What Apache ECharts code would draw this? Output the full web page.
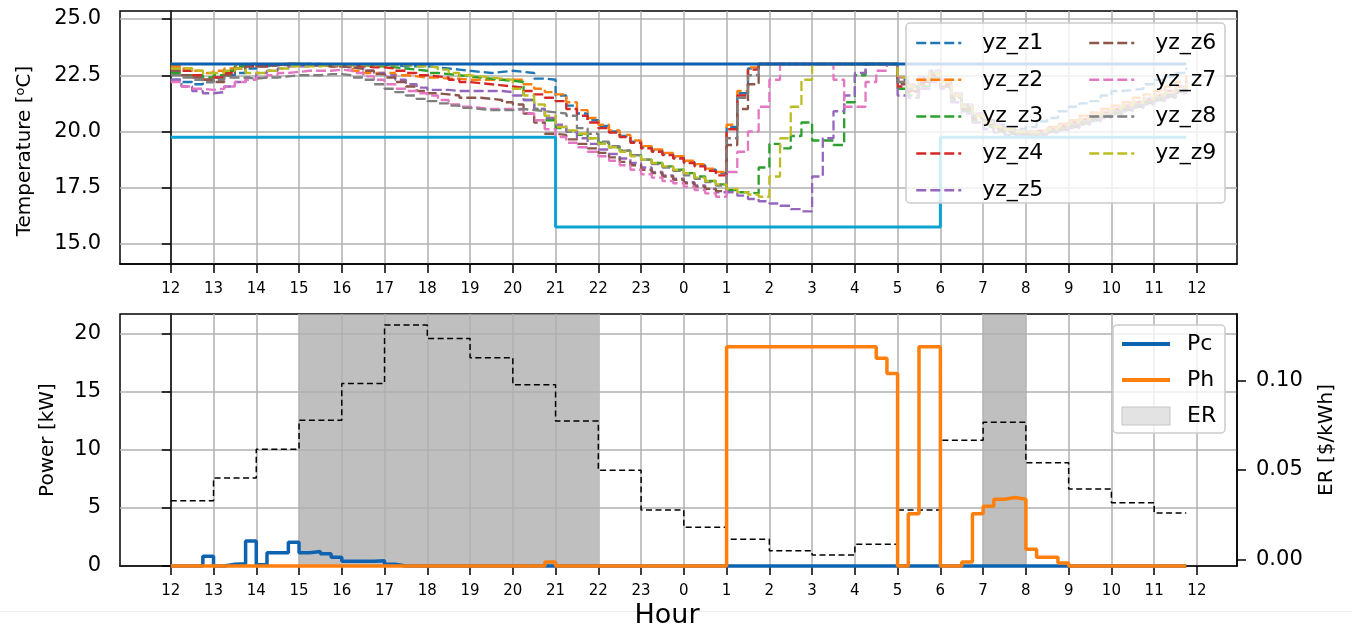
<!DOCTYPE html>
<html>
<head>
<meta charset="utf-8">
<script src="https://cdn.jsdelivr.net/npm/echarts@6/dist/echarts.min.js"></script>
<style>
  html, body { margin: 0; padding: 0; background: #fff; }
  #chart { width: 1352px; height: 630px; }
</style>
</head>
<body>
<div id="chart"></div>
<script>
// hour ticks, from noon to noon
const tickLabels = ['12', '13', '14', '15', '16', '17', '18', '19', '20', '21', '22', '23',
  '0', '1', '2', '3', '4', '5', '6', '7', '8', '9', '10', '11', '12']

const zoneNames = ['yz_z1', 'yz_z2', 'yz_z3', 'yz_z4', 'yz_z5', 'yz_z6', 'yz_z7', 'yz_z8', 'yz_z9']
const zoneColors = ['#1f77b4', '#ff7f0e', '#2ca02c', '#d62728', '#9467bd', '#8c564b', '#e377c2', '#7f7f7f', '#bcbd22']

// zone temperatures, one value per 15 min, one row per hour (12 ... 11)
const yz_z1 = [
  22.3, 22.2, 22.1, 22.2, 22.4, 22.5, 22.6, 22.8, 22.9, 22.95, 23.0, 23.0,
  23.0, 23.0, 22.95, 22.95, 22.95, 22.95, 22.95, 22.95, 22.95, 22.9, 22.9, 22.9,
  22.85, 22.8, 22.75, 22.7, 22.65, 22.6, 22.65, 22.7, 22.65, 22.6, 22.35, 22.3,
  21.6, 21.15, 20.8, 20.5, 20.25, 20.0, 19.8, 19.55, 19.3, 19.15, 19.0, 18.85,
  18.65, 18.5, 18.3, 18.15, 20.2, 21.7, 22.8, 23.0, 23.0, 23.0, 23.0, 23.0,
  23.0, 23.0, 23.0, 23.0, 23.0, 23.0, 23.0, 23.0, 22.3, 22.0, 22.4, 22.7,
  22.3, 21.7, 21.2, 20.8, 20.5, 20.3, 20.15, 20.1, 20.2, 20.45, 20.6, 20.9,
  21.1, 21.25, 21.35, 21.6, 21.8, 21.85, 21.9, 22.1, 22.3, 22.45, 22.6, 22.85
]
const yz_z2 = [
  22.9, 22.8, 22.7, 22.6, 22.7, 22.8, 22.9, 22.9, 22.95, 23.0, 23.0, 23.0,
  22.95, 22.95, 22.9, 22.9, 22.85, 22.7, 22.6, 22.6, 22.6, 22.5, 22.45, 22.4,
  22.4, 22.35, 22.35, 22.3, 22.3, 22.3, 22.3, 22.3, 22.3, 22.1, 21.9, 21.75,
  21.65, 21.3, 20.95, 20.6, 20.3, 20.05, 19.85, 19.6, 19.35, 19.2, 19.05, 18.9,
  18.7, 18.55, 18.35, 18.2, 20.3, 21.8, 22.85, 23.0, 23.0, 23.0, 23.0, 23.0,
  23.0, 23.0, 23.0, 23.0, 23.0, 23.0, 23.0, 23.0, 22.2, 21.9, 22.3, 22.6,
  22.2, 21.6, 21.1, 20.7, 20.4, 20.2, 20.1, 20.0, 19.95, 20.05, 20.2, 20.35,
  20.5, 20.7, 20.85, 21.0, 21.15, 21.3, 21.5, 21.65, 21.8, 22.0, 22.2, 22.5
]
const yz_z3 = [
  22.6, 22.5, 22.5, 22.4, 22.5, 22.7, 22.9, 23.0, 22.95, 22.95, 23.0, 23.0,
  23.0, 22.95, 22.95, 22.95, 22.95, 22.95, 22.9, 22.9, 22.85, 22.8, 22.75, 22.7,
  22.6, 22.55, 22.5, 22.45, 22.4, 22.35, 22.3, 22.25, 22.2, 21.4, 21.0, 20.5,
  20.15, 20.0, 19.85, 19.7, 19.5, 19.3, 19.15, 18.95, 18.75, 18.6, 18.45, 18.3,
  18.15, 18.0, 17.8, 17.65, 17.4, 17.3, 17.25, 18.4, 19.45, 19.25, 19.8, 20.4,
  19.6, 19.6, 19.4, 21.3, 22.5, 23.0, 23.0, 23.0, 21.9, 21.6, 22.0, 22.4,
  22.0, 21.4, 20.9, 20.5, 20.2, 20.0, 19.9, 19.85, 19.8, 19.9, 20.0, 20.1,
  20.2, 20.35, 20.5, 20.65, 20.8, 20.95, 21.1, 21.25, 21.4, 21.55, 21.75, 21.95
]
const yz_z4 = [
  22.8, 22.7, 22.5, 22.3, 22.4, 22.6, 22.8, 22.9, 22.9, 22.95, 23.0, 23.0,
  22.95, 22.95, 22.9, 22.9, 22.9, 22.9, 22.85, 22.85, 22.8, 22.7, 22.6, 22.5,
  22.45, 22.4, 22.3, 22.2, 22.15, 22.1, 22.05, 22.0, 21.95, 21.8, 21.65, 21.5,
  21.35, 21.0, 20.7, 20.4, 20.15, 19.95, 19.75, 19.5, 19.25, 19.1, 18.95, 18.8,
  18.6, 18.45, 18.25, 18.05, 20.1, 21.6, 22.75, 23.0, 23.0, 23.0, 23.0, 23.0,
  23.0, 23.0, 23.0, 23.0, 23.0, 23.0, 23.0, 23.0, 22.0, 21.75, 22.2, 22.5,
  22.1, 21.5, 21.0, 20.6, 20.3, 20.1, 20.0, 19.95, 19.9, 20.0, 20.1, 20.25,
  20.4, 20.55, 20.7, 20.85, 21.0, 21.15, 21.3, 21.45, 21.6, 21.8, 22.0, 22.25
]
const yz_z5 = [
  22.3, 22.0, 21.8, 21.7, 21.75, 22.0, 22.2, 22.4, 22.6, 22.7, 22.8, 22.9,
  22.9, 22.95, 22.95, 22.9, 22.85, 22.8, 22.7, 22.6, 22.5, 22.3, 22.1, 21.95,
  21.85, 21.85, 21.8, 21.8, 21.8, 21.8, 21.8, 21.75, 21.6, 21.4, 21.0, 20.6,
  20.3, 20.0, 19.7, 19.45, 19.2, 19.0, 18.8, 18.6, 18.4, 18.2, 18.05, 17.9,
  17.75, 17.6, 17.45, 17.3, 17.3, 17.15, 17.0, 16.9, 16.8, 16.7, 16.55, 16.45,
  18.0, 19.7, 20.9, 21.6, 22.6, 23.0, 23.0, 23.0, 21.6, 21.5, 21.9, 22.2,
  21.9, 21.3, 20.8, 20.4, 20.1, 19.95, 19.85, 19.8, 19.8, 19.85, 19.95, 20.05,
  20.15, 20.3, 20.45, 20.6, 20.75, 20.9, 21.05, 21.2, 21.35, 21.5, 21.7, 21.9
]
const yz_z6 = [
  22.7, 22.5, 22.4, 22.3, 22.2, 22.5, 22.8, 22.9, 22.9, 22.95, 22.95, 23.0,
  22.95, 22.95, 22.9, 22.9, 22.85, 22.8, 22.7, 22.55, 22.4, 22.2, 22.0, 21.8,
  21.7, 21.65, 21.6, 21.5, 21.5, 21.45, 21.4, 21.3, 21.2, 20.8, 20.4, 19.9,
  19.85, 19.65, 19.45, 19.25, 19.05, 18.85, 18.65, 18.5, 18.3, 18.15, 18.0, 17.85,
  17.7, 17.55, 17.45, 17.35, 19.4, 21.0, 22.1, 23.0, 23.0, 23.0, 23.0, 23.0,
  23.0, 23.0, 23.0, 23.0, 23.0, 23.0, 23.0, 23.0, 22.1, 21.8, 22.1, 22.4,
  22.0, 21.5, 21.0, 20.6, 20.3, 20.1, 20.0, 19.9, 19.85, 19.9, 20.0, 20.1,
  20.25, 20.4, 20.55, 20.7, 20.85, 21.0, 21.15, 21.3, 21.45, 21.6, 21.8, 22.0
]
const yz_z7 = [
  22.2, 22.0, 21.9, 21.85, 21.9, 22.0, 22.2, 22.3, 22.4, 22.5, 22.6, 22.65,
  22.7, 22.7, 22.7, 22.75, 22.7, 22.6, 22.45, 22.3, 22.1, 21.9, 21.8, 21.7,
  21.6, 21.4, 21.2, 21.1, 21.05, 21.0, 21.0, 21.0, 21.0, 20.8, 20.5, 20.1,
  19.75, 19.5, 19.3, 19.1, 18.9, 18.7, 18.5, 18.3, 18.1, 17.95, 17.8, 17.7,
  17.55, 17.4, 17.25, 17.1, 18.2, 19.1, 20.0, 21.1, 22.3, 23.0, 23.0, 23.0,
  23.0, 23.0, 22.3, 21.1, 21.1, 22.2, 22.7, 23.0, 22.4, 22.1, 22.4, 22.7,
  22.3, 21.7, 21.2, 20.8, 20.5, 20.3, 20.15, 20.05, 20.0, 20.05, 20.15, 20.3,
  20.45, 20.6, 20.75, 20.9, 21.05, 21.2, 21.35, 21.5, 21.65, 21.8, 22.0, 22.2
]
const yz_z8 = [
  22.5, 22.4, 22.3, 22.2, 22.3, 22.4, 22.4, 22.35, 22.4, 22.4, 22.45, 22.5,
  22.5, 22.5, 22.55, 22.55, 22.5, 22.4, 22.3, 22.1, 21.9, 21.75, 21.6, 21.45,
  21.35, 21.25, 21.15, 21.05, 21.0, 20.95, 20.95, 20.95, 21.0, 20.95, 20.9, 20.85,
  20.8, 20.7, 20.15, 19.9, 19.55, 19.35, 19.15, 18.95, 18.75, 18.55, 18.4, 18.25,
  18.05, 17.9, 17.75, 17.6, 19.7, 21.5, 22.5, 23.0, 23.0, 23.0, 23.0, 23.0,
  23.0, 23.0, 23.0, 23.0, 23.0, 23.0, 23.0, 23.0, 22.2, 21.9, 22.3, 22.6,
  22.2, 21.6, 21.1, 20.7, 20.4, 20.2, 20.05, 19.95, 19.9, 19.95, 20.05, 20.15,
  20.3, 20.45, 20.6, 20.75, 20.9, 21.05, 21.2, 21.35, 21.5, 21.65, 21.85, 22.05
]
const yz_z9 = [
  22.8, 22.8, 22.7, 22.6, 22.6, 22.7, 22.8, 22.6, 22.6, 22.7, 22.8, 22.9,
  22.9, 22.9, 22.95, 22.95, 22.95, 22.95, 22.95, 22.95, 22.95, 22.95, 22.9, 22.9,
  22.85, 22.75, 22.6, 22.5, 22.45, 22.4, 22.35, 22.3, 21.9, 21.6, 21.2, 20.7,
  20.2, 20.05, 19.9, 19.7, 19.45, 19.3, 19.1, 18.9, 18.75, 18.6, 18.45, 18.3,
  18.15, 17.95, 17.8, 17.65, 17.45, 17.3, 17.2, 17.1, 18.0, 19.7, 21.1, 22.3,
  23.0, 23.0, 23.0, 23.0, 23.0, 23.0, 23.0, 23.0, 22.4, 22.0, 22.3, 22.6,
  22.2, 21.6, 21.1, 20.7, 20.4, 20.2, 20.1, 20.0, 19.95, 20.0, 20.1, 20.25,
  20.4, 20.55, 20.7, 20.85, 21.0, 21.15, 21.3, 21.45, 21.6, 21.75, 21.95, 22.15
]
const zoneTemps = [yz_z1, yz_z2, yz_z3, yz_z4, yz_z5, yz_z6, yz_z7, yz_z8, yz_z9]

// comfort band, one value per hour (12 ... 11)
const upperBound = [23, 23, 23, 23, 23, 23, 23, 23, 23, 23, 23, 23, 23, 23, 23, 23, 23, 23, 23, 23, 23, 23, 23, 23]
const lowerBound = [19.75, 19.75, 19.75, 19.75, 19.75, 19.75, 19.75, 19.75, 19.75,
  15.75, 15.75, 15.75, 15.75, 15.75, 15.75, 15.75, 15.75, 15.75,
  19.75, 19.75, 19.75, 19.75, 19.75, 19.75]

// cooling / heating power [kW], one value per 15 min
const pcPower = [
  0, 0, 0, 0.85, 0, 0.15, 0.2, 2.15, 0.1, 1.15, 1.15, 2.05,
  1.15, 1.25, 1.05, 0.75, 0.4, 0.4, 0.4, 0.45, 0.15, 0, 0, 0,
  0, 0, 0, 0, 0, 0, 0, 0, 0, 0, 0, 0,
  0, 0, 0, 0, 0, 0, 0, 0, 0, 0, 0, 0,
  0, 0, 0, 0, 0, 0, 0, 0, 0, 0, 0, 0,
  0, 0, 0, 0, 0, 0, 0, 0, 0, 0, 0, 0,
  0, 0, 0, 0, 0, 0, 0, 0, 0, 0, 0, 0,
  0, 0, 0, 0, 0, 0, 0, 0, 0, 0, 0, 0
]
const phPower = [
  0, 0, 0, 0, 0, 0, 0, 0, 0, 0, 0, 0,
  0, 0, 0, 0, 0, 0, 0, 0, 0, 0, 0, 0,
  0, 0, 0, 0, 0, 0, 0, 0, 0, 0, 0, 0.35,
  0, 0, 0, 0, 0, 0, 0, 0, 0, 0, 0, 0,
  0, 0, 0, 0, 18.9, 18.9, 18.9, 18.9, 18.9, 18.9, 18.9, 18.9,
  18.9, 18.9, 18.9, 18.9, 18.9, 18.9, 17.9, 16.6, 0, 4.5, 18.9, 18.9,
  0, 0, 0.35, 4.5, 5.15, 5.75, 5.9, 5.75, 1.45, 0.75, 0.75, 0.25,
  0, 0, 0, 0, 0, 0, 0, 0, 0, 0, 0, 0
]

// electricity rate [$/kWh], one value per hour (12 ... 11)
const erRate = [0.0328, 0.0455, 0.0616, 0.0778, 0.0985, 0.1312, 0.1237, 0.1129, 0.0978, 0.0774,
  0.0498, 0.0276, 0.0179, 0.0112, 0.0048, 0.0024, 0.0084, 0.0276, 0.0666, 0.0767,
  0.0541, 0.0394, 0.0317, 0.0259]
// high-rate periods (clock hours)
const erPeakPeriods = [[15, 22], [7, 8]]

const font = 'DejaVu Sans'
const tickPositions = tickLabels.map((_, i) => i)
const quarterPairs = arr => arr.map((v, i) => [i * 0.25, v])
const hourlyToQuarter = arr => arr.flatMap(v => [v, v, v, v])
const clockToOffset = h => (h - 12 + 24) % 24

const chart = echarts.init(document.getElementById('chart'))

const hourAxis = (gridIndex, z) => ({
  type: 'value',
  gridIndex,
  z,
  min: -1.1875,
  max: 24.9375,
  axisLine: { show: true, onZero: false, lineStyle: { color: '#000', width: 1.5 } },
  axisTick: { show: true, length: 9, customValues: tickPositions, lineStyle: { color: '#000', width: 1.5 } },
  axisLabel: {
    customValues: tickPositions,
    formatter: v => tickLabels[Math.round(v)],
    fontFamily: font, fontSize: 15, color: '#000', margin: 18
  },
  splitLine: { show: true, lineStyle: { color: '#b0b0b0', width: 1.5 } }
})

const valueAxis = (gridIndex, min, max, ticks, digits, extra) => Object.assign({
  type: 'value',
  gridIndex,
  min,
  max,
  axisLine: { show: true, lineStyle: { color: '#000', width: 1.5 } },
  axisTick: { show: true, length: 9, customValues: ticks, lineStyle: { color: '#000', width: 1.5 } },
  axisLabel: {
    customValues: ticks,
    formatter: v => v.toFixed(digits),
    fontFamily: font, fontSize: 21, color: '#000', margin: 19
  },
  splitLine: { show: true, lineStyle: { color: '#b0b0b0', width: 1.5 } },
  nameLocation: 'middle',
  nameRotate: 90,
  nameTextStyle: { fontFamily: font, fontSize: 20, color: '#000' }
}, extra)

const zoneSeries = zoneNames.map((name, k) => ({
  name,
  type: 'line',
  step: 'end',
  symbol: 'none',
  xAxisIndex: 0,
  yAxisIndex: 0,
  color: zoneColors[k],
  lineStyle: { color: zoneColors[k], width: 2.3, type: [10, 4] },
  data: quarterPairs(zoneTemps[k])
}))

const boundSeries = [
  { data: upperBound, color: '#0b5fae' },
  { data: lowerBound, color: '#0ba3d4' }
].map(b => ({
  name: 'bound',
  type: 'line',
  step: 'end',
  symbol: 'none',
  xAxisIndex: 0,
  yAxisIndex: 0,
  lineStyle: { color: b.color, width: 3 },
  data: quarterPairs(hourlyToQuarter(b.data))
}))

const legendText = { fontFamily: font, fontSize: 22, color: '#000' }
const lineItem = name => ({ name, itemStyle: { opacity: 0 } })

chart.setOption({
  animation: false,
  backgroundColor: '#fff',
  grid: [
    { left: 120, top: 11, width: 1117, height: 253, show: true, borderColor: '#000', borderWidth: 1.5, outerBoundsMode: 'none' },
    { left: 120, top: 314, width: 1117, height: 252, show: true, borderColor: '#000', borderWidth: 1.5, outerBoundsMode: 'none' }
  ],
  xAxis: [hourAxis(0, 0), hourAxis(1, 1.5)],
  yAxis: [
    valueAxis(0, 14.111, 25.356, [15, 17.5, 20, 22.5, 25], 1, {
      name: 'Temperature [{sup|o}C]',
      nameGap: 84,
      nameTextStyle: {
        fontFamily: font, fontSize: 20, color: '#000',
        padding: [0, 27, 0, 0],
        rich: { sup: { fontFamily: font, fontSize: 13, color: '#000', padding: [0, 0, 9, 0] } }
      }
    }),
    valueAxis(1, 0, 21.72, [0, 5, 10, 15, 20], 0, { name: 'Power [kW]', nameGap: 62, z: 1.5 }),
    valueAxis(1, -0.00375, 0.13735, [0, 0.05, 0.1], 2, {
      name: 'ER [$/kWh]',
      position: 'right',
      nameGap: 80,
      z: 1.5,
      splitLine: { show: false }
    })
  ],
  legend: [
    {
      z: 120,
      data: zoneNames.slice(0, 5).map(lineItem), orient: 'vertical', left: 915, top: 32, padding: 0,
      itemWidth: 45, itemHeight: 14, itemGap: 14.8, selectedMode: false,
      lineStyle: { width: 2.5 },
      textStyle: Object.assign({ padding: [0, 0, 0, 16] }, legendText)
    },
    {
      z: 120,
      data: zoneNames.slice(5).map(lineItem), orient: 'vertical', left: 1088, top: 32, padding: 0,
      itemWidth: 45, itemHeight: 14, itemGap: 14.8, selectedMode: false,
      lineStyle: { width: 2.5 },
      textStyle: Object.assign({ padding: [0, 0, 0, 16] }, legendText)
    },
    {
      z: 120,
      data: [lineItem('Pc'), lineItem('Ph'),
        { name: 'ER', icon: 'rect', itemStyle: { opacity: 1, color: '#e3e3e3', borderColor: '#c4c4c4', borderWidth: 1 } }],
      orient: 'vertical', left: 1120, top: 333, padding: 0,
      itemWidth: 48, itemHeight: 18, itemGap: 14, selectedMode: false,
      lineStyle: { width: 4 },
      textStyle: Object.assign({ padding: [0, 0, 0, 12] }, legendText)
    }
  ],
  graphic: [
    { type: 'rect', z: 100, shape: { x: 906, y: 23, width: 319, height: 180, r: 4 },
      style: { fill: 'rgba(255,255,255,0.8)', stroke: '#cccccc', lineWidth: 1.5 } },
    { type: 'rect', z: 100, shape: { x: 1113, y: 325, width: 112, height: 108, r: 4 },
      style: { fill: 'rgba(255,255,255,0.8)', stroke: '#cccccc', lineWidth: 1.5 } },
    { type: 'line', z: 1, shape: { x1: 0, y1: 611.5, x2: 1352, y2: 611.5 },
      style: { stroke: '#ececec', lineWidth: 1 } },
    { type: 'text', z: 5, x: 667, y: 616,
      style: { text: 'Hour', fontFamily: font, fontSize: 27, fill: '#000', align: 'center', verticalAlign: 'middle' } }
  ],
  series: [
    ...zoneSeries,
    ...boundSeries,
    {
      name: 'ER',
      type: 'line',
      xAxisIndex: 1,
      yAxisIndex: 1,
      symbol: 'none',
      color: '#c0c0c0',
      data: [],
      markArea: {
        silent: true,
        itemStyle: { color: 'rgba(164,164,164,0.7)' },
        data: erPeakPeriods.map(p => [{ xAxis: clockToOffset(p[0]) }, { xAxis: clockToOffset(p[1]) }])
      }
    },
    {
      name: 'ER rate',
      type: 'line',
      step: 'end',
      symbol: 'none',
      xAxisIndex: 1,
      yAxisIndex: 2,
      lineStyle: { color: '#000', width: 1.5, type: [6, 3.5] },
      data: quarterPairs(hourlyToQuarter(erRate))
    },
    {
      name: 'Pc',
      type: 'line',
      step: 'end',
      symbol: 'none',
      clip: false,
      xAxisIndex: 1,
      yAxisIndex: 1,
      color: '#0e63b0',
      lineStyle: { color: '#0e63b0', width: 3.5 },
      data: quarterPairs(pcPower)
    },
    {
      name: 'Ph',
      type: 'line',
      step: 'end',
      symbol: 'none',
      clip: false,
      xAxisIndex: 1,
      yAxisIndex: 1,
      color: '#ff7f0e',
      lineStyle: { color: '#ff7f0e', width: 3.5 },
      data: quarterPairs(phPower)
    }
  ]
})
</script>
</body>
</html>
